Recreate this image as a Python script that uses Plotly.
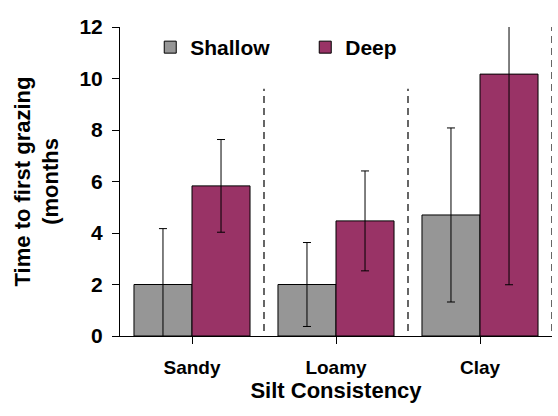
import plotly.graph_objects as go

# Time to first grazing (months) by silt consistency and depth
categories = ["Sandy", "Loamy", "Clay"]
shallow = [2.0, 2.0, 4.7]
shallow_err = [2.17, 1.63, 3.38]
deep = [5.83, 4.47, 10.17]
deep_err = [1.8, 1.94, 8.18]
y_ticks = [0, 2, 4, 6, 8, 10, 12]

FONT = "Liberation Sans, Arial, sans-serif"
x_idx = list(range(len(categories)))

fig = go.Figure()
fig.add_trace(go.Bar(
    name="Shallow", x=x_idx, y=shallow,
    marker=dict(color="#969696", line=dict(color="#000000", width=1)),
    error_y=dict(type="data", array=shallow_err, visible=True,
                 color="#000000", thickness=1, width=4),
))
fig.add_trace(go.Bar(
    name="Deep", x=x_idx, y=deep,
    marker=dict(color="#993366", line=dict(color="#000000", width=1)),
    error_y=dict(type="data", array=deep_err, visible=True,
                 color="#000000", thickness=1, width=4),
))

# dashed separators between the soil groups
for i, top in [(0.5, 9.6), (1.5, 9.6), (2.5, 12.0)]:
    fig.add_shape(type="line", xref="x", yref="y", x0=i, x1=i, y0=-0.27, y1=top,
                  line=dict(color="#000000", width=1.2, dash="7px,5px"), layer="above")

fig.update_layout(
    width=558, height=416,
    margin=dict(l=120, r=6, t=27, b=80),
    paper_bgcolor="#ffffff", plot_bgcolor="#ffffff",
    barmode="group", bargap=0.194, bargroupgap=0,
    font=dict(family=FONT, color="#000000", weight="bold"),
    showlegend=True,
    legend=dict(orientation="h", x=0.07, y=1.0, xanchor="left", yanchor="top",
                font=dict(size=21, family=FONT, weight="bold"),
                bgcolor="rgba(0,0,0,0)", entrywidth=110, tracegroupgap=0),
    xaxis=dict(
        tickmode="array", tickvals=x_idx, ticktext=categories,
        range=[-0.5, 2.5], tickson="boundaries",
        ticks="outside", ticklen=7, tickcolor="#000000",
        showline=True, linecolor="#000000", linewidth=1,
        showgrid=False, zeroline=False, ticklabelstandoff=7,
        tickfont=dict(size=19, family=FONT, weight="bold"),
        title=dict(text="Silt Consistency", font=dict(size=22, family=FONT, weight="bold"),
                   standoff=0),
    ),
    yaxis=dict(
        range=[0, 12], tickvals=y_ticks,
        ticks="outside", ticklen=7, tickcolor="#000000",
        showline=True, linecolor="#000000", linewidth=1,
        showgrid=False, zeroline=False, ticklabelstandoff=5,
        tickfont=dict(size=21, family=FONT, weight="bold"),
        title=dict(text="Time to first grazing<br>(months",
                   font=dict(size=22, family=FONT, weight="bold"), standoff=14),
    ),
)

fig.write_html("out.html")
